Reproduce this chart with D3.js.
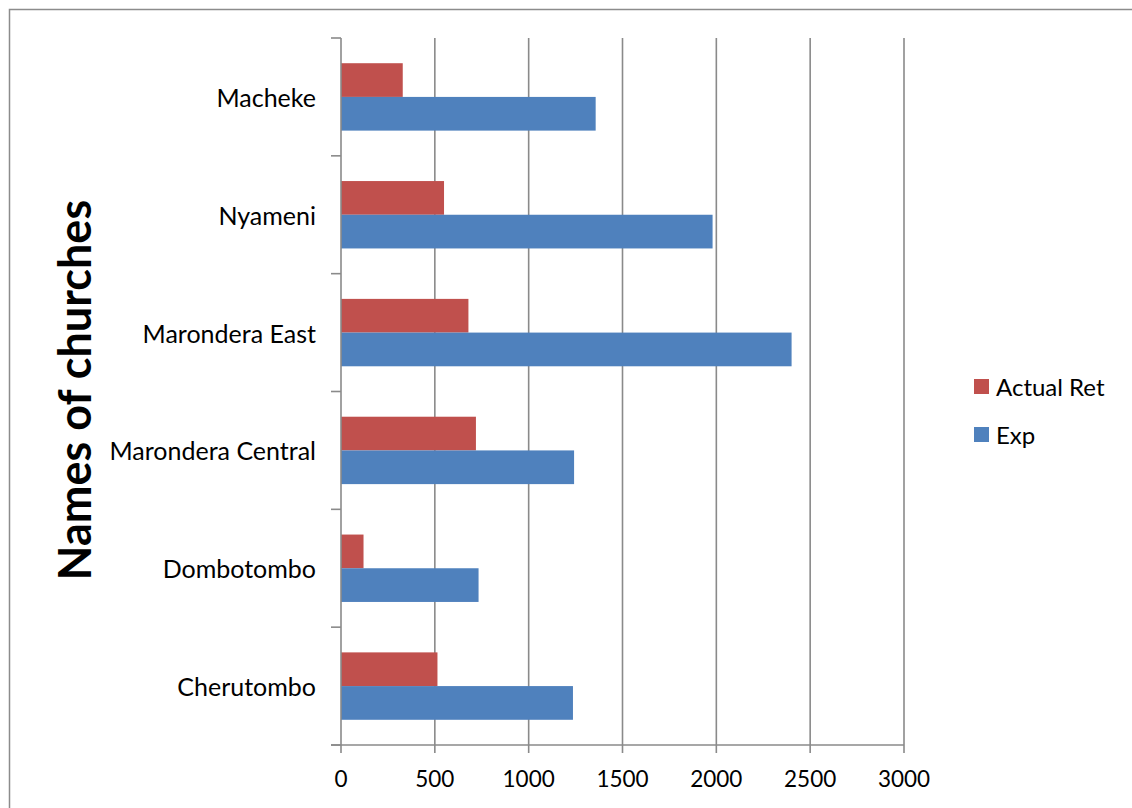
<!DOCTYPE html>
<html>
<head>
<meta charset="utf-8">
<script src="https://cdn.jsdelivr.net/npm/d3@7"></script>
<style>
  html, body { margin: 0; padding: 0; background: #fff; }
  svg { display: block; }
  text { font-family: Lato, "Open Sans", sans-serif; fill: #000; }
</style>
</head>
<body>
<svg id="chart" width="1132" height="808"></svg>
<script>
// Churches, listed top to bottom as they appear on the category axis
const churches = ["Macheke", "Nyameni", "Marondera East", "Marondera Central", "Dombotombo", "Cherutombo"];
const actualRet = [329, 549, 679, 719, 120, 514];
const exp = [1357, 1980, 2401, 1242, 733, 1236];
const seriesNames = ["Actual Ret", "Exp"];
const seriesColors = ["#C0504D", "#4F81BD"];
const xTicks = [0, 500, 1000, 1500, 2000, 2500, 3000];
const yTitle = "Names of churches";

const svg = d3.select("#chart");
const plot = { left: 341, right: 904, top: 38, bottom: 745 };
const gridColor = "#8a8a8a";

// Outer frame
svg.append("path")
  .attr("d", "M9.5,808 V9.5 H1132")
  .attr("fill", "none")
  .attr("stroke", "#8c8c8c")
  .attr("stroke-width", 1.5);

const x = d3.scaleLinear().domain([0, 3000]).range([plot.left, plot.right]);
const y = d3.scaleBand().domain(churches).range([plot.top, plot.bottom])
  .paddingInner(0.428).paddingOuter(0.214);
const ySeries = d3.scaleBand().domain(seriesNames).range([0, y.bandwidth()]);

// Vertical gridlines
svg.append("g").selectAll("line").data(xTicks.slice(1)).join("line")
  .attr("x1", d => x(d)).attr("x2", d => x(d))
  .attr("y1", plot.top).attr("y2", plot.bottom)
  .attr("stroke", gridColor).attr("stroke-width", 1.6);

// Bars
const rows = churches.map((c, i) => ({ church: c, values: [actualRet[i], exp[i]] }));
const groups = svg.append("g").selectAll("g").data(rows).join("g")
  .attr("transform", d => `translate(0,${y(d.church)})`);
groups.selectAll("rect")
  .data(d => d.values.map((v, j) => ({ key: seriesNames[j], value: v, color: seriesColors[j] })))
  .join("rect")
  .attr("x", x(0))
  .attr("y", d => ySeries(d.key))
  .attr("width", d => x(d.value) - x(0))
  .attr("height", ySeries.bandwidth())
  .attr("fill", d => d.color);

// Category axis
const step = y.step();
const catBounds = d3.range(churches.length + 1).map(i => plot.top + i * step);
const yAxisG = svg.append("g");
yAxisG.append("line")
  .attr("x1", x(0)).attr("x2", x(0))
  .attr("y1", plot.top).attr("y2", plot.bottom)
  .attr("stroke", gridColor).attr("stroke-width", 1.6);
yAxisG.selectAll("line.tick").data(catBounds).join("line")
  .attr("class", "tick")
  .attr("x1", x(0) - 10).attr("x2", x(0))
  .attr("y1", d => d).attr("y2", d => d)
  .attr("stroke", gridColor).attr("stroke-width", 1.6);
yAxisG.selectAll("text").data(churches).join("text")
  .attr("x", 316)
  .attr("y", d => y(d) + y.bandwidth() / 2)
  .attr("text-anchor", "end")
  .attr("dominant-baseline", "central")
  .attr("font-size", 25)
  .text(d => d);

// Value axis
const xAxisG = svg.append("g");
xAxisG.append("line")
  .attr("x1", x(0) - 10).attr("x2", plot.right)
  .attr("y1", plot.bottom).attr("y2", plot.bottom)
  .attr("stroke", gridColor).attr("stroke-width", 1.6);
xAxisG.selectAll("line.tick").data(xTicks).join("line")
  .attr("class", "tick")
  .attr("x1", d => x(d)).attr("x2", d => x(d))
  .attr("y1", plot.bottom).attr("y2", plot.bottom + 8)
  .attr("stroke", gridColor).attr("stroke-width", 1.6);
xAxisG.selectAll("text").data(xTicks).join("text")
  .attr("x", d => x(d))
  .attr("y", 778)
  .attr("text-anchor", "middle")
  .attr("dominant-baseline", "central")
  .attr("font-size", 22.5)
  .text(d => d);

// Axis title
svg.append("text")
  .attr("transform", "translate(74,390) rotate(-90)")
  .attr("text-anchor", "middle")
  .attr("dominant-baseline", "central")
  .attr("font-size", 45)
  .attr("font-weight", "bold")
  .text(yTitle);

// Legend
const legend = svg.append("g").selectAll("g").data(seriesNames).join("g")
  .attr("transform", (d, i) => `translate(974,${379 + i * 48})`);
legend.append("rect")
  .attr("width", 15).attr("height", 15)
  .attr("fill", (d, i) => seriesColors[i]);
legend.append("text")
  .attr("x", 22).attr("y", 7.5)
  .attr("dominant-baseline", "central")
  .attr("font-size", 24)
  .text(d => d);
</script>
</body>
</html>
